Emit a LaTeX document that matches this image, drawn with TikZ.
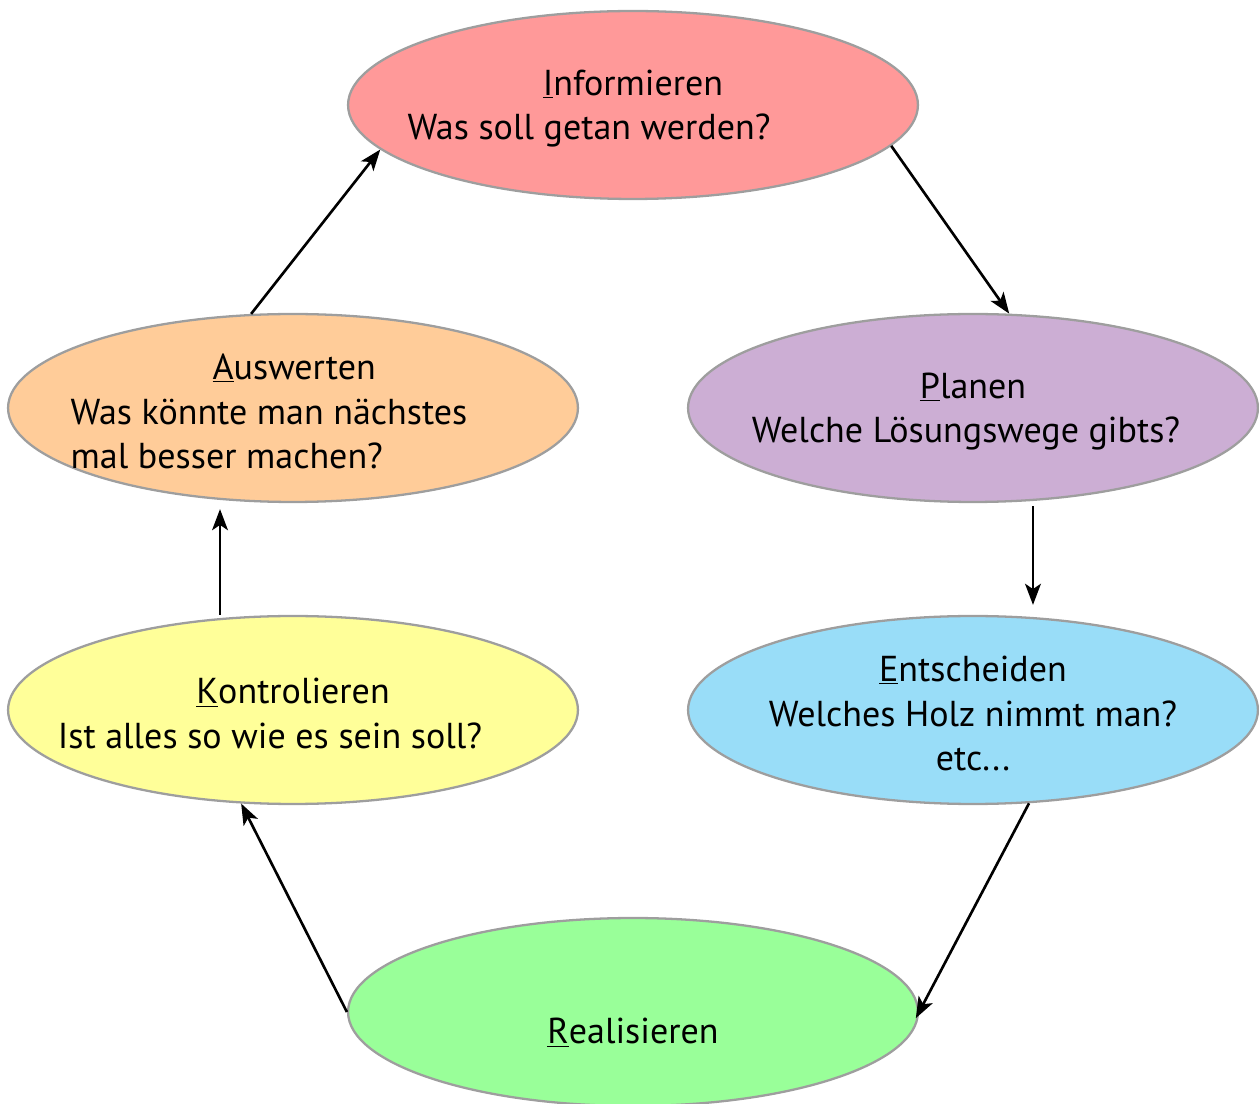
\documentclass[tikz,border=0pt]{standalone}
\usepackage{fontspec}
\setmainfont{PT Sans}
\usetikzlibrary{shapes.geometric,arrows.meta}

\definecolor{infored}{HTML}{FF9999}
\definecolor{planlila}{HTML}{CCAED4}
\definecolor{entblau}{HTML}{99DDF8}
\definecolor{realgruen}{HTML}{99FF99}
\definecolor{kontrgelb}{HTML}{FFFF99}
\definecolor{auswpfirsich}{HTML}{FFCC99}

\begin{document}
\begin{tikzpicture}[x=0.02cm, y=-0.02cm,
    >={Stealth[length=12pt, width=9pt, inset=3pt]},
    phase/.style={ellipse, draw=black!38, line width=1.3pt, inner sep=0pt,
        minimum width=11.4cm, minimum height=3.76cm},
    txt/.style={align=center, inner sep=0pt, yshift=-0.07cm, font=\fontsize{20.5}{25.5}\selectfont},
    pfeil/.style={->, line width=1.5pt}]
    \useasboundingbox (0,0) rectangle (1259,1104);

    % die sechs Phasen
    \node[phase, fill=infored] (info) at (633,105) {};
    \node[phase, fill=planlila] (plan) at (973,408) {};
    \node[phase, fill=entblau] (ent) at (973,710) {};
    \node[phase, fill=realgruen] (real) at (633,1012) {};
    \node[phase, fill=kontrgelb] (kontr) at (293,710) {};
    \node[phase, fill=auswpfirsich] (ausw) at (293,408) {};

    \node[txt] (info-t) at (info) {\underline{I}nformieren\\Was soll getan werden?\rule{1.76cm}{0pt}};
    \node[txt] (plan-t) at (plan) {\underline{P}lanen\\Welche Lösungswege gibts?\rule{0.28cm}{0pt}};
    \node[txt] (ent-t) at (ent) {\underline{E}ntscheiden\\Welches Holz nimmt man?\\etc...};
    \node[txt] (real-t) at ([yshift=-0.35cm]real) {\underline{R}ealisieren};
    \node[txt] (kontr-t) at (kontr) {\underline{K}ontrolieren\\Ist alles so wie es sein soll?\rule{0.92cm}{0pt}};
    \node[txt, align=left] (ausw-t) at ([xshift=-0.48cm]ausw) {\rule{2.84cm}{0pt}\underline{A}uswerten\\Was könnte man nächstes\\mal besser machen?};

    % Kreislauf
    \draw[pfeil] (info.-9) -- (plan.69);
    \draw[pfeil, shorten <=0.06cm, shorten >=0.2cm] ([xshift=1.2cm]plan.south) -- ([xshift=1.2cm]ent.north);
    \draw[pfeil, shorten >=-0.14cm] (ent.-59) -- (real.east);
    \draw[pfeil] (real.west) -- (kontr.-119);
    \draw[pfeil, shorten >=0.12cm] ([xshift=-1.46cm]kontr.north) -- ([xshift=-1.46cm]ausw.south);
    \draw[pfeil] (ausw.114) -- (info.190);
\end{tikzpicture}
\end{document}
